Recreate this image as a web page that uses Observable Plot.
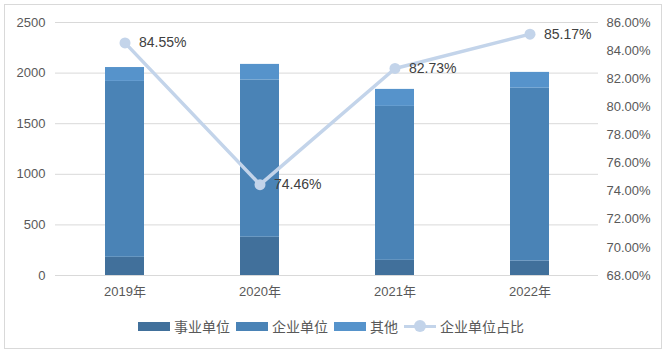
<!DOCTYPE html>
<html><head><meta charset="utf-8">
<script src="https://cdn.jsdelivr.net/npm/d3@7"></script>
<script src="https://cdn.jsdelivr.net/npm/@observablehq/plot@0.6"></script>
<style>
body{margin:0;background:#fff;font-family:"Liberation Sans","Noto Sans CJK SC",sans-serif;}
#wrap{position:relative;width:665px;height:351px;overflow:hidden;background:#fff}
#frame{position:absolute;left:4px;top:4px;width:658px;height:345px;border:1px solid #d9d9d9;box-sizing:border-box;pointer-events:none}
#chart{position:absolute;left:0;top:0}
#legend{position:absolute;top:316px;left:138px;display:flex;align-items:center;font-family:"Noto Sans CJK SC",sans-serif;font-size:14px;color:#595959;white-space:nowrap}
.sw{display:inline-block;width:32px;height:9px;margin-right:4px}
.it{display:flex;align-items:center;margin-right:6px}
.ln{position:relative;width:32px;height:12px;margin-right:4px}
.ln:before{content:"";position:absolute;left:0;right:0;top:4.5px;height:3px;background:#c3d4ea}
.ln:after{content:"";position:absolute;left:10px;top:0;width:12px;height:12px;border-radius:50%;background:#c3d4ea}
</style></head>
<body>
<div id="wrap"><div id="chart"></div><div id="legend"></div><div id="frame"></div></div>
<script>
const years = ["2019年","2020年","2021年","2022年"];
const series = ["事业单位","企业单位","其他"];
const shiye = [180, 378, 150, 142];
const qiye = [1738, 1553, 1521, 1709];
const qita = [137, 155, 168, 156];
const ratio = [84.55, 74.46, 82.73, 85.17];
const ratioLabel = "企业单位占比";
const leftTicks = [0, 500, 1000, 1500, 2000, 2500];
const rightTicks = [68, 70, 72, 74, 76, 78, 80, 82, 84, 86];
const colors = ["#41709b", "#4a83b6", "#5693cb"];
const lineColor = "#c3d4ea";

const rMin = 68, rMax = 86, lMax = 2500;
const toLeft = p => (p - rMin) / (rMax - rMin) * lMax;
const toRight = v => rMin + v / lMax * (rMax - rMin);

const rows = [];
years.forEach((y, i) => {
  rows.push({year: y, series: series[0], value: shiye[i]});
  rows.push({year: y, series: series[1], value: qiye[i]});
  rows.push({year: y, series: series[2], value: qita[i]});
});
const lineData = years.map((y, i) => ({year: y, r: ratio[i], v: toLeft(ratio[i])}));

const chart = Plot.plot({
  width: 665, height: 310,
  marginLeft: 55, marginRight: 67, marginTop: 22, marginBottom: 35,
  style: {fontFamily: '"Liberation Sans","Noto Sans CJK SC",sans-serif', fontSize: "13px", color: "#595959", background: "transparent"},
  x: {domain: years, paddingInner: 0.713, paddingOuter: 0.3565, label: null},
  y: {domain: [0, lMax], label: null},
  color: {domain: series, range: colors},
  marks: [
    Plot.gridY(leftTicks, {stroke: "#d9d9d9", strokeOpacity: 1}),
    Plot.barY(rows, {x: "year", y: "value", fill: "series", order: series}),
    Plot.ruleY([0], {stroke: "#d9d9d9"}),
    Plot.line(lineData, {x: "year", y: "v", stroke: lineColor, strokeWidth: 3.5}),
    Plot.dot(lineData, {x: "year", y: "v", fill: lineColor, r: 5.5}),
    Plot.text(lineData, {x: "year", y: "v", text: d => d.r.toFixed(2) + "%", textAnchor: "start", dx: 14, fontSize: 14, fill: "#404040"}),
    Plot.axisY(leftTicks, {anchor: "left", tickSize: 0, tickPadding: 10, label: null, fill: "#595959", tickFormat: d => String(d)}),
    Plot.axisY(rightTicks.map(toLeft), {anchor: "right", tickSize: 0, tickPadding: 8, label: null, fill: "#595959", tickFormat: d => toRight(d).toFixed(2) + "%"}),
    Plot.axisX({tickSize: 0, tickPadding: 11, label: null, fill: "#595959", fontSize: 13})
  ]
});
document.getElementById("chart").appendChild(chart);

const lg = document.getElementById("legend");
series.forEach((s, i) => {
  const it = document.createElement("div"); it.className = "it";
  it.innerHTML = `<span class="sw" style="background:${colors[i]}"></span><span>${s}</span>`;
  lg.appendChild(it);
});
const it = document.createElement("div"); it.className = "it";
it.innerHTML = `<span class="ln"></span><span>${ratioLabel}</span>`;
lg.appendChild(it);
</script>
</body></html>
